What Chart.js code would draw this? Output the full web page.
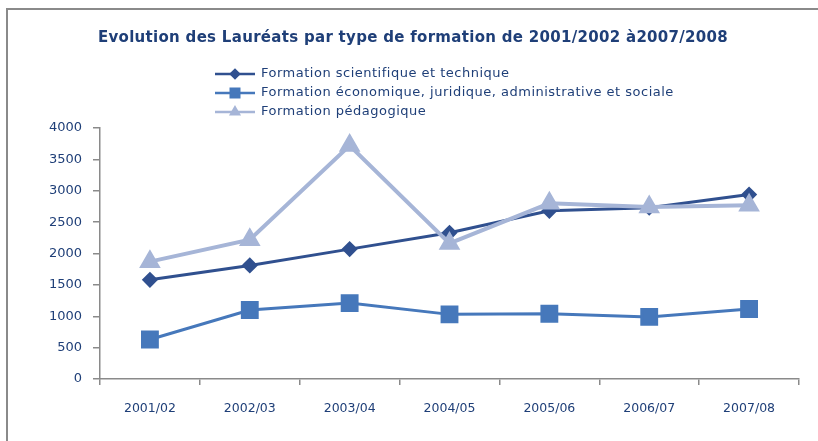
<!DOCTYPE html>
<html>
<head>
<meta charset="utf-8">
<script src="https://cdn.jsdelivr.net/npm/chart.js@4"></script>
<style>
    body { margin: 0; background: #fff; overflow: hidden; }
</style>
</head>
<body>
<canvas id="chart" width="818" height="441"></canvas>
<script>
// ===== DATA =====
const categories = ["2001/02", "2002/03", "2003/04", "2004/05", "2005/06", "2006/07", "2007/08"];
const sciValues = [1580, 1810, 2070, 2330, 2680, 2730, 2940];
const ecoValues = [630, 1100, 1210, 1030, 1040, 990, 1115];
const pedValues = [1870, 2220, 3720, 2160, 2800, 2740, 2770];
const seriesNames = [
    "Formation scientifique et technique",
    "Formation économique, juridique, administrative et sociale",
    "Formation pédagogique"
];
const titleText = "Evolution des Lauréats par type de formation de 2001/2002 à2007/2008";

const textColor = "#1f3f78";
const axisColor = "#8a8a8a";

// ===== FRAME, TITLE + STACKED LEGEND =====
const headerPlugin = {
    id: "header",
    beforeDraw(chart) {
        const ctx = chart.ctx;
        ctx.save();
        ctx.strokeStyle = axisColor;
        ctx.lineWidth = 2;
        ctx.beginPath();
        ctx.moveTo(7, chart.height);
        ctx.lineTo(7, 9);
        ctx.lineTo(chart.width, 9);
        ctx.stroke();
        ctx.restore();
    },
    afterDraw(chart) {
        const ctx = chart.ctx;
        ctx.save();
        ctx.fillStyle = textColor;
        ctx.font = "bold 15px 'DejaVu Sans'";
        ctx.letterSpacing = "0.3px";
        ctx.textAlign = "center";
        ctx.textBaseline = "middle";
        ctx.fillText(titleText, 413, 38);

        ctx.font = "13px 'DejaVu Sans'";
        ctx.letterSpacing = "0.5px";
        ctx.textAlign = "left";
        chart.data.datasets.forEach((ds, i) => {
            const y = 74 + i * 19;
            ctx.strokeStyle = ds.borderColor;
            ctx.lineWidth = 2.5;
            ctx.beginPath();
            ctx.moveTo(215, y);
            ctx.lineTo(255, y);
            ctx.stroke();
            Chart.helpers.drawPoint(ctx, {
                pointStyle: ds.pointStyle,
                radius: ds.legendRadius,
                rotation: 0,
                borderWidth: 1
            }, 235, y);
            ctx.fillStyle = ds.borderColor;
            ctx.strokeStyle = ds.borderColor;
            ctx.fill();
            ctx.fillStyle = textColor;
            ctx.fillText(ds.label, 261, y);
        });
        ctx.restore();
    }
};

new Chart(document.getElementById("chart"), {
    type: "line",
    data: {
        labels: categories,
        datasets: [
            {
                label: seriesNames[0],
                data: sciValues,
                borderColor: "#30508f",
                backgroundColor: "#30508f",
                borderWidth: 3,
                pointStyle: "rectRot",
                pointRadius: 6,
                legendRadius: 4,
                order: 1
            },
            {
                label: seriesNames[1],
                data: ecoValues,
                borderColor: "#4678bb",
                backgroundColor: "#4678bb",
                borderWidth: 3,
                pointStyle: "rect",
                pointRadius: 10.5,
                legendRadius: 6,
                order: 2
            },
            {
                label: seriesNames[2],
                data: pedValues,
                borderColor: "#a6b5d7",
                backgroundColor: "#a6b5d7",
                borderWidth: 4,
                pointStyle: "triangle",
                pointRadius: 8.5,
                legendRadius: 4.5,
                order: 0
            }
        ]
    },
    options: {
        responsive: false,
        animation: false,
        layout: { padding: { top: 128, right: 19, left: 0, bottom: 0 } },
        plugins: {
            legend: { display: false },
            title: { display: false },
            tooltip: { enabled: false }
        },
        elements: { line: { tension: 0 } },
        scales: {
            x: {
                offset: true,
                grid: { offset: true, drawOnChartArea: false, tickLength: 6, color: axisColor, lineWidth: 1.5 },
                border: { color: axisColor, width: 1.5 },
                ticks: { color: textColor, font: { family: "DejaVu Sans", size: 12.5 }, padding: 16, maxRotation: 0 },
                afterFit: s => { s.height = 62; }
            },
            y: {
                min: 0,
                max: 4000,
                ticks: {
                    stepSize: 500,
                    color: textColor,
                    font: { family: "DejaVu Sans", size: 13 },
                    padding: 11,
                    callback: v => String(v)
                },
                grid: { drawOnChartArea: false, tickLength: 7, color: axisColor, lineWidth: 1.5 },
                border: { color: axisColor, width: 1.5 },
                afterFit: s => { s.width = 100; }
            }
        }
    },
    plugins: [headerPlugin]
});
</script>
</body>
</html>
